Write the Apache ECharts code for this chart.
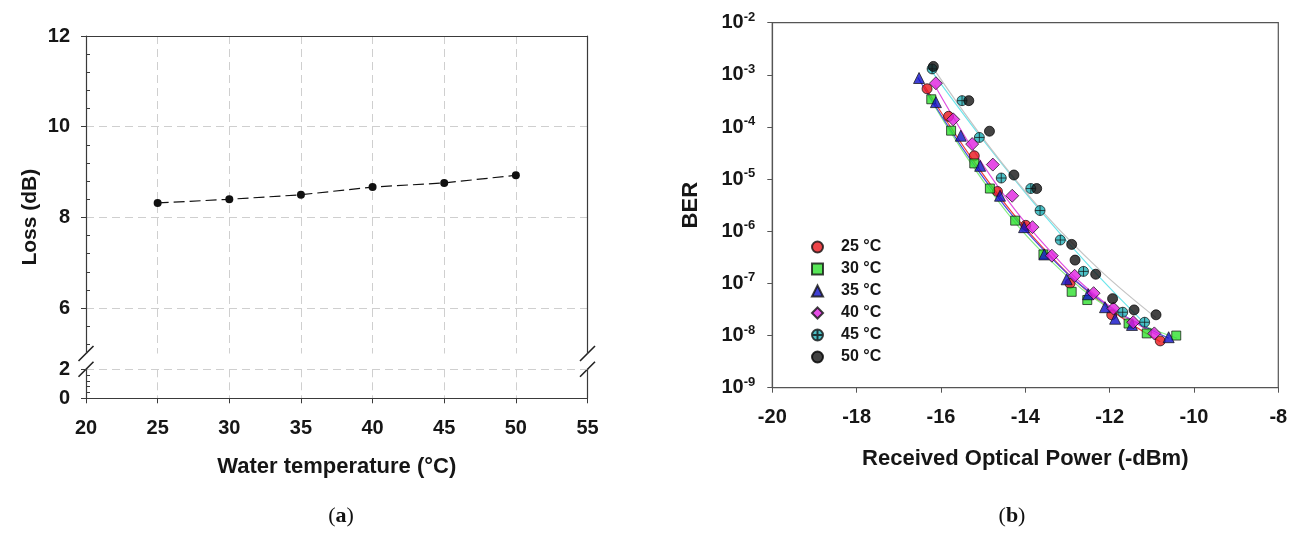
<!DOCTYPE html>
<html><head><meta charset="utf-8">
<script src="https://cdn.jsdelivr.net/npm/echarts@6/dist/echarts.min.js"></script>
<style>html,body{margin:0;padding:0;background:#fff;}#c{width:1299px;height:538px;}</style>
</head><body><div id="c"></div>
<script>
// ---------- data: (a) loss vs water temperature ----------
const lossTemps = [25, 30, 35, 40, 45, 50];
const lossDb = [8.32, 8.40, 8.50, 8.67, 8.76, 8.93];
const tempTicks = [20, 25, 30, 35, 40, 45, 50, 55];
const lossTicksUpper = [6, 8, 10, 12];
const lossTicksLower = [0, 2];

// ---------- data: (b) BER vs received optical power ----------
const powerTicks = [-20, -18, -16, -14, -12, -10, -8];
const berExponents = [-9, -8, -7, -6, -5, -4, -3, -2];
const berThreshold = 1e-3;
const seriesNames = ['25 °C', '30 °C', '35 °C', '40 °C', '45 °C', '50 °C'];

// measured points
const power25 = [-16.33, -15.82, -15.21, -14.66, -13.99, -12.94, -11.95, -10.80];
const ber25   = [5.4e-4, 1.6e-4, 2.8e-5, 5.8e-6, 1.3e-6, 1.0e-7, 2.5e-8, 7.9e-9];
const power30 = [-16.23, -15.76, -15.21, -14.84, -14.24, -13.57, -12.90, -12.53, -11.55, -11.12, -10.42];
const ber30   = [3.4e-4, 8.5e-5, 2.0e-5, 6.6e-6, 1.6e-6, 3.6e-7, 6.9e-8, 4.8e-8, 1.7e-8, 1.1e-8, 1.0e-8];
const power35 = [-16.52, -16.12, -15.53, -15.07, -14.60, -14.03, -13.55, -13.02, -12.51, -12.11, -11.87, -11.47, -10.60];
const ber35   = [8.7e-4, 3.0e-4, 6.8e-5, 1.8e-5, 4.8e-6, 1.2e-6, 3.6e-7, 1.2e-7, 6.2e-8, 3.5e-8, 2.1e-8, 1.6e-8, 9.3e-9];
const power40 = [-16.12, -15.71, -15.26, -14.77, -14.31, -13.83, -13.37, -12.83, -12.38, -11.91, -11.44, -10.94];
const ber40   = [6.9e-4, 1.4e-4, 4.7e-5, 1.9e-5, 4.8e-6, 1.2e-6, 3.4e-7, 1.4e-7, 6.5e-8, 3.3e-8, 1.8e-8, 1.1e-8];
const power45 = [-16.21, -15.50, -15.09, -14.57, -13.87, -13.65, -13.17, -12.62, -11.69, -11.17];
const ber45   = [1.3e-3, 3.2e-4, 6.3e-5, 1.05e-5, 6.6e-6, 2.5e-6, 6.8e-7, 1.7e-7, 2.8e-8, 1.8e-8];
const power50 = [-16.18, -15.34, -14.85, -14.27, -13.73, -12.90, -12.82, -12.33, -11.93, -11.42, -10.90];
const ber50   = [1.45e-3, 3.2e-4, 8.3e-5, 1.2e-5, 6.6e-6, 5.6e-7, 2.8e-7, 1.5e-7, 5.1e-8, 3.1e-8, 2.5e-8];

// fitted trend curves
const fitPower25 = [-16.40, -15.00, -13.60, -12.20, -10.80];
const fitBer25   = [6.3e-4, 1.23e-5, 5.0e-7, 4.3e-8, 7.6e-9];
const fitPower30 = [-16.30, -14.83, -13.35, -11.88, -10.40];
const fitBer30   = [4.0e-4, 6.0e-6, 2.5e-7, 2.9e-8, 8.9e-9];
const fitPower35 = [-16.55, -15.06, -13.58, -12.09, -10.60];
const fitBer35   = [8.9e-4, 1.26e-5, 4.5e-7, 4.0e-8, 8.9e-9];
const fitPower40 = [-16.15, -14.83, -13.50, -12.18, -10.85];
const fitBer40   = [6.3e-4, 1.17e-5, 5.0e-7, 4.7e-8, 1.0e-8];
const fitPower45 = [-16.20, -14.95, -13.70, -12.45, -11.20];
const fitBer45   = [1.12e-3, 5.0e-5, 2.8e-6, 2.0e-7, 1.8e-8];
const fitPower50 = [-16.20, -14.88, -13.55, -12.23, -10.90];
const fitBer50   = [1.41e-3, 4.5e-5, 2.2e-6, 1.8e-7, 2.2e-8];

// ---------- styling / layout ----------
const FONT = '"Liberation Sans", Arial, sans-serif';
const TXT = '#161616';
const AX = '#3a3a3a';
const GRIDC = '#cfcfcf';

const gA = {left: 86, top: 36, width: 501.5, height: 317.5};   // loss 5..12
const gB = {left: 86, top: 369.3, width: 501.5, height: 29};    // loss 0..2
const gC = {left: 772.3, top: 22.7, width: 506, height: 365};   // BER plot

const ptsOf = (xs, ys) => xs.map((x, i) => [x, ys[i]]);
const berSets = [
  {name: seriesNames[0], d: ptsOf(power25, ber25), f: ptsOf(fitPower25, fitBer25), color: '#e8161c', line: '#f03a3a', symbol: 'circle', size: 10},
  {name: seriesNames[1], d: ptsOf(power30, ber30), f: ptsOf(fitPower30, fitBer30), color: '#2ee02e', line: '#86ec86', symbol: 'rect', size: 9},
  {name: seriesNames[2], d: ptsOf(power35, ber35), f: ptsOf(fitPower35, fitBer35), color: '#1010c8', line: '#4a4ae0', symbol: 'triangle', size: 11},
  {name: seriesNames[3], d: ptsOf(power40, ber40), f: ptsOf(fitPower40, fitBer40), color: '#e020e0', line: '#e050e0', symbol: 'diamond', size: 13},
  {name: seriesNames[4], d: ptsOf(power45, ber45), f: ptsOf(fitPower45, fitBer45), color: '#1fb0b8', line: '#6fe6ec',
   symbol: 'path://M0,-10A10,10 0 1 1 0,10A10,10 0 1 1 0,-10ZM-10,0L10,0M0,-10L0,10', size: 10},
  {name: seriesNames[5], d: ptsOf(power50, ber50), f: ptsOf(fitPower50, fitBer50), color: '#141414', line: '#c4c4c4', symbol: 'circle', size: 10}
];

const boldLabel = {color: TXT, fontFamily: FONT, fontWeight: 'bold', fontSize: 20};
const titleStyle = {color: TXT, fontFamily: FONT, fontWeight: 'bold', fontSize: 22};
const dashed = {show: true, lineStyle: {color: GRIDC, type: [8, 5], width: 1}};

const series = [{
  type: 'line', xAxisIndex: 0, yAxisIndex: 0, data: ptsOf(lossTemps, lossDb),
  symbol: 'circle', symbolSize: 8, itemStyle: {color: '#111'},
  lineStyle: {color: '#111', width: 1.2, type: [11, 5]}, z: 5
}];
berSets.forEach(s => {
  series.push({
    type: 'line', name: s.name + ' fit', xAxisIndex: 2, yAxisIndex: 6, data: s.f,
    showSymbol: false, symbol: 'none', smooth: 0.4, silent: true,
    lineStyle: {color: s.line, width: 1.2}, z: 2
  });
});
berSets.forEach((s, i) => {
  const sr = {
    type: 'scatter', name: s.name, xAxisIndex: 2, yAxisIndex: 6, data: s.d,
    symbol: s.symbol, symbolSize: s.size,
    itemStyle: {color: s.color, borderColor: i === 5 ? '#000' : '#111', borderWidth: 0.9}, z: 4
  };
  if (i === 0) {
    sr.markLine = {silent: true, symbol: 'none', label: {show: false},
      lineStyle: {color: '#555', type: [9, 6], width: 1.2}, data: [{yAxis: berThreshold}]};
  }
  series.push(sr);
});

const option = {
  backgroundColor: '#fff',
  animation: false,
  grid: [
    Object.assign({containLabel: false}, gA),
    Object.assign({containLabel: false}, gB),
    Object.assign({containLabel: false, show: true, borderColor: '#555', borderWidth: 1.2}, gC)
  ],
  legend: {
    data: seriesNames, orient: 'vertical', left: 806, top: 233,
    itemWidth: 11, itemHeight: 11, itemGap: 4,
    textStyle: {color: TXT, fontFamily: FONT, fontWeight: 'bold', fontSize: 16, lineHeight: 18, padding: [0, 0, 0, 13]}
  },
  xAxis: [
    {gridIndex: 0, type: 'value', position: 'top', min: 20, max: 55, interval: 5,
     axisLine: {show: true, lineStyle: {color: AX, width: 1.2}}, axisTick: {show: false}, axisLabel: {show: false},
     splitLine: Object.assign({showMinLine: false, showMaxLine: false}, dashed)},
    {gridIndex: 1, type: 'value', position: 'bottom', min: 20, max: 55, interval: 5,
     axisLine: {show: true, onZero: false, lineStyle: {color: AX, width: 1.2}},
     axisTick: {show: true, length: 5, lineStyle: {color: AX}},
     axisLabel: Object.assign({margin: 20, formatter: v => tempTicks.includes(v) ? String(v) : ''}, boldLabel),
     splitLine: Object.assign({showMinLine: false, showMaxLine: false}, dashed),
     name: 'Water temperature (°C)', nameLocation: 'middle', nameGap: 58, nameTextStyle: titleStyle},
    {gridIndex: 2, type: 'value', min: -20, max: -8, interval: 2,
     axisLine: {show: true, onZero: false, lineStyle: {color: '#555', width: 1.2}},
     axisTick: {show: true, length: 5, lineStyle: {color: '#555'}},
     axisLabel: Object.assign({margin: 20, formatter: v => powerTicks.includes(v) ? String(v) : ''}, boldLabel),
     splitLine: {show: false},
     name: 'Received Optical Power (-dBm)', nameLocation: 'middle', nameGap: 60, nameTextStyle: titleStyle}
  ],
  yAxis: [
    {gridIndex: 0, type: 'value', position: 'left', min: 5, max: 12, splitNumber: 4,
     axisLine: {show: true, onZero: false, lineStyle: {color: AX, width: 1.2}},
     axisTick: {show: true, length: 5, lineStyle: {color: AX}},
     axisLabel: Object.assign({margin: 16, showMinLabel: false, formatter: v => lossTicksUpper.includes(v) ? String(v) : ''}, boldLabel),
     splitLine: Object.assign({showMinLine: false, showMaxLine: false}, dashed)},
    {gridIndex: 0, type: 'value', position: 'left', offset: 0, min: 5, max: 12, splitNumber: 4,
     axisLine: {show: false}, axisTick: {show: false, inside: true}, axisLabel: {show: false}, splitLine: {show: false},
     minorTick: {show: true, splitNumber: 5, length: 4, lineStyle: {color: AX}}},
    {gridIndex: 0, type: 'value', position: 'right', min: 5, max: 12,
     axisLine: {show: true, onZero: false, lineStyle: {color: AX, width: 1.2}}, axisTick: {show: false}, axisLabel: {show: false}, splitLine: {show: false}},
    {gridIndex: 1, type: 'value', position: 'left', min: 0, max: 2, interval: 2,
     axisLine: {show: true, onZero: false, lineStyle: {color: AX, width: 1.2}},
     axisTick: {show: true, length: 5, lineStyle: {color: AX}},
     axisLabel: Object.assign({margin: 16, formatter: v => lossTicksLower.includes(v) ? String(v) : ''}, boldLabel),
     splitLine: Object.assign({showMinLine: false, showMaxLine: true}, dashed)},
    {gridIndex: 1, type: 'value', position: 'left', offset: 0, min: 0, max: 2, interval: 2,
     axisLine: {show: false}, axisTick: {show: false, inside: true}, axisLabel: {show: false}, splitLine: {show: false},
     minorTick: {show: true, splitNumber: 5, length: 4, lineStyle: {color: AX}}},
    {gridIndex: 1, type: 'value', position: 'right', min: 0, max: 2,
     axisLine: {show: true, onZero: false, lineStyle: {color: AX, width: 1.2}}, axisTick: {show: false}, axisLabel: {show: false}, splitLine: {show: false}},
    {gridIndex: 2, type: 'log', logBase: 10, min: 1e-9, max: 1e-2, splitNumber: 7,
     axisLine: {show: true, onZero: false, lineStyle: {color: '#555', width: 1.2}},
     axisTick: {show: true, length: 5, lineStyle: {color: '#555'}},
     axisLabel: {margin: 17, color: TXT,
       formatter: v => { const e = Math.round(Math.log10(v)); return berExponents.includes(e) ? '{b|10}{s|' + e + '}' : ''; },
       rich: {b: {fontFamily: FONT, fontWeight: 'bold', fontSize: 20, color: TXT, lineHeight: 24},
              s: {fontFamily: FONT, fontWeight: 'bold', fontSize: 13, color: TXT, verticalAlign: 'top', lineHeight: 14}}},
     splitLine: {show: false},
     name: 'BER', nameLocation: 'middle', nameGap: 70, nameTextStyle: titleStyle}
  ],
  series: series
};

// decorations: axis-break slashes, y title of (a), captions
const slash = (cx, cy) => ({type: 'line', silent: true,
  shape: {x1: cx - 7.5, y1: cy + 7.5, x2: cx + 7.5, y2: cy - 7.5},
  style: {stroke: '#222', lineWidth: 1.6}});
const yBreakTop = gA.top + gA.height, yBreakBot = gB.top;
const xL = gA.left, xR = gA.left + gA.width;
const SERIF = '"Liberation Serif", "Times New Roman", serif';
const capRich = {p: {fontFamily: SERIF, fontSize: 22, fill: '#111'},
                 b: {fontFamily: SERIF, fontSize: 22, fontWeight: 'bold', fill: '#111'}};
option.graphic = [
  slash(xL, yBreakTop), slash(xL, yBreakBot), slash(xR, yBreakTop), slash(xR, yBreakBot),
  {type: 'text', x: 30, y: (gA.top + gB.top + gB.height) / 2, rotation: Math.PI / 2,
   style: {text: 'Loss (dB)', fill: TXT, font: 'bold 21px ' + FONT, textAlign: 'center', textVerticalAlign: 'middle'}},
  {type: 'text', x: 341, y: 516, style: {text: '{p|(}{b|a}{p|)}', rich: capRich, textAlign: 'center', textVerticalAlign: 'middle'}},
  {type: 'text', x: 1012, y: 516, style: {text: '{p|(}{b|b}{p|)}', rich: capRich, textAlign: 'center', textVerticalAlign: 'middle'}}
];

const chart = echarts.init(document.getElementById('c'));
chart.setOption(option);
</script></body></html>
